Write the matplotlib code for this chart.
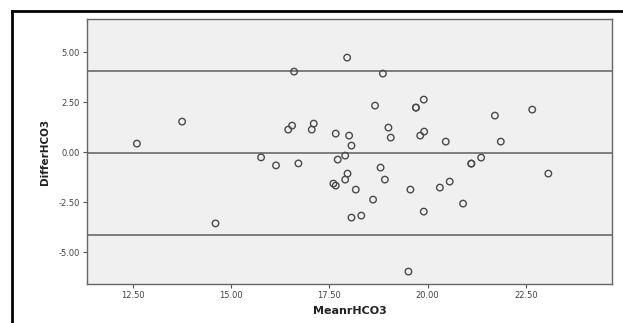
import matplotlib
matplotlib.use("Agg")
import matplotlib.pyplot as plt
from matplotlib.lines import Line2D

mean_hco3 = [12.60, 13.75, 16.60, 17.95, 18.86, 19.90, 18.66, 19.70, 19.70,
             16.55, 16.45, 17.10, 17.05, 17.66, 18.00, 18.06, 19.00, 19.06,
             19.91, 19.81, 22.66, 21.71, 20.46, 21.86, 15.76, 16.14, 16.71,
             14.60, 17.71, 17.90, 17.96, 17.90, 17.60, 17.66, 18.17, 18.80,
             18.91, 18.61, 18.06, 18.31, 19.56, 19.90, 19.51, 20.31, 20.56,
             21.11, 21.11, 21.36, 20.90, 23.07]
differ_hco3 = [0.42, 1.52, 4.02, 4.72, 3.92, 2.62, 2.32, 2.22, 2.22,
               1.32, 1.12, 1.42, 1.12, 0.92, 0.82, 0.32, 1.22, 0.72,
               1.02, 0.82, 2.12, 1.82, 0.52, 0.52, -0.27, -0.67, -0.57,
               -3.57, -0.38, -0.18, -1.08, -1.38, -1.58, -1.68, -1.88, -0.78,
               -1.38, -2.38, -3.28, -3.18, -1.88, -2.98, -5.98, -1.78, -1.48,
               -0.58, -0.58, -0.28, -2.58, -1.08]
ref_lines = [4.03, -0.07, -4.17]
x_ticks = [12.5, 15.0, 17.5, 20.0, 22.5]
y_ticks = [-5.0, -2.5, 0.0, 2.5, 5.0]

fig = plt.figure(figsize=(6.23, 3.23), dpi=100)
fig.patch.set_facecolor("white")
ax = fig.add_axes([87/623, 1-284/323, (612-87)/623, (284-19)/323])
ax.set_facecolor("#f0f0f0")

for yv in ref_lines:
    ax.axhline(yv, color="#6a6a6a", lw=1.2, zorder=1)

ax.scatter(mean_hco3, differ_hco3, s=22, facecolors="none",
           edgecolors="#4a4a4a", linewidths=1.0, zorder=3)

ax.set_xlim(11.33, 24.69)
ax.set_ylim(-6.6, 6.65)
ax.set_xticks(x_ticks)
ax.set_yticks(y_ticks)
ax.set_xticklabels([f"{v:.2f}" for v in x_ticks])
ax.set_yticklabels([f"{v:.2f}" for v in y_ticks])
ax.tick_params(direction="out", length=3, width=0.8, color="#555555",
               labelsize=6, labelcolor="#444444", pad=2)
for sp in ax.spines.values():
    sp.set_color("#666666")
    sp.set_linewidth(1.0)

ax.set_xlabel("MeanrHCO3", fontsize=8, fontweight="bold", color="#222222", labelpad=4)
ax.set_ylabel("DifferHCO3", fontsize=7.5, fontweight="bold", color="#222222", labelpad=6)

# outer frame (top and left edges)
fig.add_artist(Line2D([12/623, 1.0], [1-11/323, 1-11/323], color="black", lw=2,
                      transform=fig.transFigure))
fig.add_artist(Line2D([12/623, 12/623], [0.0, 1-11/323], color="black", lw=2,
                      transform=fig.transFigure))

fig.savefig("out.png", dpi=100)
